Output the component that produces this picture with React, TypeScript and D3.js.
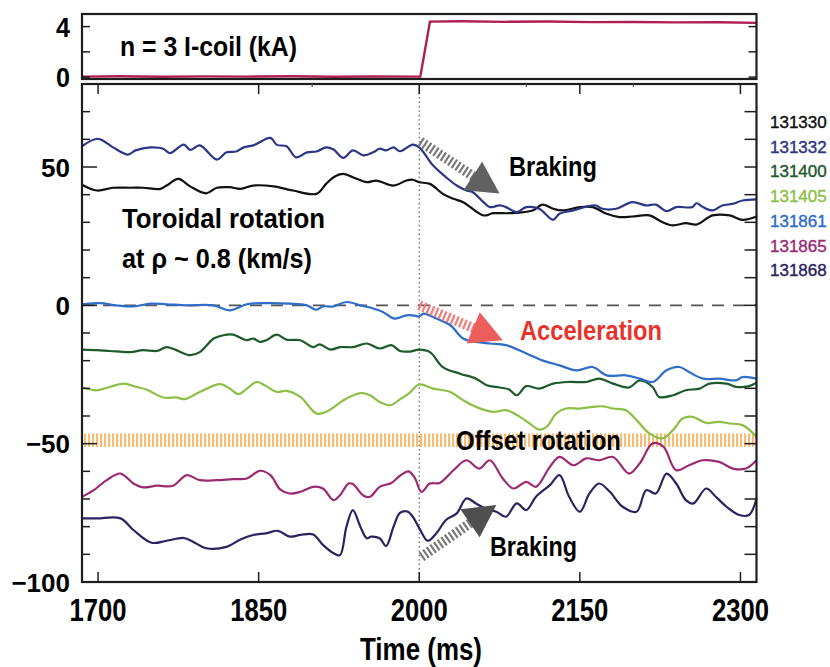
import * as d3 from "d3";

// I-coil current (kA) vs time (ms)
const coilTime = [1685, 1720, 1760, 1800, 1840, 1880, 1920, 1960, 2001, 2010, 2040, 2080, 2120, 2160, 2200, 2240, 2280, 2315];
const coilCurrent = [0.04, 0.07, 0.03, 0.06, 0.04, 0.07, 0.03, 0.05, 0.04, 4.4, 4.42, 4.38, 4.4, 4.36, 4.37, 4.34, 4.35, 4.3];

// toroidal rotation (km/s) per shot, [time ms, value]
const s131330: [number, number][] = [
  [1685, 43.6], [1699, 41.5], [1714, 42.5], [1730, 42.5], [1742, 42.5], [1758, 42.1], [1764, 43.3], [1775, 45.7],
  [1786, 43], [1801, 40.5], [1811, 42.5], [1823, 42.7], [1833, 42.1], [1845, 43.3], [1864, 43], [1882, 41.5],
  [1904, 40.3], [1913, 43.9], [1920, 46.3], [1929, 47.5], [1938, 46.3], [1951, 44.5], [1960, 45.1], [1976, 43.3],
  [1988, 45.1], [1994, 45.4], [2000, 44.5], [2010, 43.9], [2022, 40.3], [2032, 38.5], [2041, 37.3], [2060, 32.5],
  [2069, 33.3], [2084, 33.3], [2106, 34.3], [2115, 36.4], [2125, 34.9], [2134, 34.3], [2150, 35.5], [2162, 35.5],
  [2175, 33.1], [2187, 31.9], [2199, 32.1], [2215, 32.5], [2227, 30.1], [2237, 28.9], [2249, 29.7], [2259, 29.2],
  [2274, 32.5], [2290, 32.5], [2302, 30.9], [2315, 32.1],
];
const s131332: [number, number][] = [
  [1685, 57.5], [1700, 60.2], [1714, 57.1], [1728, 54.5], [1735, 56], [1749, 57.1], [1761, 56.6], [1767, 55],
  [1780, 58.1], [1786, 56.2], [1795, 57.8], [1811, 52.7], [1820, 55.3], [1829, 55.6], [1836, 57.1], [1845, 57.8],
  [1861, 60.5], [1867, 58], [1876, 57.5], [1885, 53.5], [1895, 55.3], [1904, 55.6], [1913, 57.1], [1920, 56.3],
  [1929, 53.3], [1938, 56], [1948, 54.2], [1957, 55.3], [1963, 56.6], [1969, 56], [1976, 57.1], [1982, 55.7],
  [1994, 58.1], [2000, 57.1], [2013, 50.5], [2025, 46.3], [2035, 43.3], [2044, 41.5], [2050, 40.9], [2060, 37.3],
  [2066, 35.5], [2075, 36.1], [2081, 35.5], [2091, 33.7], [2100, 35.5], [2112, 34.9], [2125, 30.9], [2131, 33.1],
  [2144, 34.3], [2156, 35.7], [2165, 36.1], [2171, 34.9], [2184, 34.9], [2199, 37.3], [2212, 36.1], [2221, 36.4],
  [2231, 34], [2240, 35.5], [2255, 35.5], [2259, 36.9], [2265, 35.5], [2274, 34.3], [2283, 36.1], [2293, 36.7],
  [2302, 37.9], [2315, 38.3],
];
const s131400: [number, number][] = [
  [1685, -16], [1699, -16.2], [1711, -16.5], [1730, -16.9], [1742, -16.2], [1755, -16.5], [1764, -15.1], [1773, -16.2],
  [1786, -18], [1795, -16.9], [1808, -12], [1817, -10.8], [1826, -10.6], [1839, -12.6], [1845, -12], [1851, -13.2],
  [1857, -12.6], [1867, -10.6], [1876, -12.4], [1889, -12.6], [1901, -15.1], [1907, -14.1], [1917, -16], [1926, -15.1],
  [1938, -15.1], [1951, -13.8], [1963, -15.6], [1974, -14.4], [1982, -16.5], [1991, -16.7], [2000, -16], [2010, -16.9],
  [2022, -22.3], [2038, -24.7], [2053, -26.5], [2063, -28.9], [2075, -29.7], [2084, -30.4], [2091, -32.5], [2100, -29.2],
  [2112, -30.1], [2125, -28.3], [2140, -27.7], [2156, -27.7], [2168, -26.5], [2181, -28.3], [2196, -29.7], [2206, -27.1],
  [2218, -29.5], [2224, -33.1], [2237, -32.5], [2249, -30.7], [2262, -30.1], [2271, -28.3], [2287, -28.3], [2296, -29.5],
  [2308, -29.2], [2315, -28],
];
const s131405: [number, number][] = [
  [1685, -29.7], [1699, -30.7], [1711, -29.5], [1724, -28.3], [1736, -29.5], [1745, -30.4], [1761, -33.3], [1773, -33.3],
  [1781, -33.9], [1795, -31.3], [1814, -28.5], [1823, -30.1], [1831, -32.1], [1839, -30.1], [1848, -27.7], [1857, -29.2],
  [1867, -31.3], [1876, -30.9], [1889, -33.1], [1904, -39.1], [1913, -38.5], [1932, -33.7], [1945, -31.7], [1954, -32.5],
  [1963, -34.9], [1973, -36.1], [1982, -34], [1991, -31.6], [2000, -28.6], [2013, -30.1], [2029, -31.3], [2041, -34.3],
  [2053, -36.7], [2069, -38.5], [2081, -37.9], [2094, -40.3], [2103, -42.7], [2112, -44.9], [2119, -43.9], [2128, -39.1],
  [2137, -37.3], [2150, -37.3], [2162, -36.7], [2172, -36.5], [2181, -37.3], [2193, -37.9], [2203, -41.5], [2215, -46.3],
  [2227, -48.1], [2237, -45.1], [2246, -40.9], [2255, -40.3], [2268, -42.5], [2280, -42.1], [2290, -42.7], [2302, -43.3],
  [2315, -47.5],
];
const s131861: [number, number][] = [
  [1685, 0.4], [1702, 0.8], [1717, 0], [1733, -0.4], [1749, 0.6], [1764, 0.4], [1783, 0], [1808, 0], [1823, -1.8],
  [1839, 0.4], [1857, 0.8], [1879, 0.6], [1895, 0], [1904, -1.6], [1910, -0.4], [1920, -0.4], [1932, 1.2], [1945, 0],
  [1954, -0.8], [1966, -2.4], [1977, -4.8], [1988, -3.6], [1994, -3.6], [2000, -4], [2004, -3], [2016, -4.8],
  [2029, -7.2], [2041, -12], [2053, -13.2], [2066, -13.8], [2081, -14.4], [2100, -17.4], [2115, -19.9], [2131, -21.7],
  [2147, -23.5], [2162, -22.3], [2175, -25.3], [2193, -25.3], [2206, -26.5], [2218, -27.7], [2231, -23.5], [2243, -22.3],
  [2252, -24.1], [2265, -26.5], [2280, -26.5], [2296, -27.1], [2302, -25.9], [2315, -26.5],
];
const s131865: [number, number][] = [
  [1685, -69.2], [1696, -66.8], [1708, -63.2], [1721, -60.8], [1733, -64.4], [1742, -65.8], [1755, -65.2], [1770, -65.2],
  [1783, -61.4], [1795, -63.2], [1811, -63.2], [1826, -62.8], [1839, -62.6], [1851, -59.8], [1861, -61.4], [1870, -66.5],
  [1879, -68], [1889, -67.4], [1901, -65.6], [1910, -66.2], [1920, -70.4], [1926, -68.6], [1934, -64.4], [1938, -64.6],
  [1948, -68.8], [1954, -69.2], [1963, -65.6], [1974, -64.2], [1982, -61.6], [1990, -60], [1996, -62.5], [2002, -67.4],
  [2010, -64.4], [2019, -64.2], [2032, -59.6], [2044, -56], [2056, -59], [2066, -56], [2078, -62.6], [2088, -66.2],
  [2100, -63.8], [2109, -65.6], [2122, -58.4], [2131, -54.8], [2144, -57.8], [2156, -55.3], [2168, -56], [2181, -54.8],
  [2196, -60.8], [2206, -57.1], [2218, -49.9], [2228, -51.1], [2240, -59.6], [2252, -57.8], [2265, -56], [2280, -56.6],
  [2293, -59], [2305, -59], [2315, -56],
];
const s131868: [number, number][] = [
  [1685, -77], [1699, -77], [1721, -77], [1733, -81.2], [1750, -85.8], [1764, -85.1], [1780, -84.1], [1789, -85.5],
  [1801, -87.8], [1820, -87.3], [1833, -84.6], [1845, -83], [1857, -82.4], [1868, -81.5], [1879, -83.6], [1889, -83],
  [1901, -82.8], [1910, -86.6], [1920, -89.6], [1926, -90.3], [1932, -80], [1938, -74], [1945, -80], [1951, -84.2],
  [1955, -83.6], [1963, -84.2], [1969, -87], [1976, -80], [1982, -75], [1989, -74.5], [1994, -76.4], [2000, -80.5],
  [2008, -85.1], [2016, -82.4], [2025, -77.6], [2035, -75.2], [2044, -69.8], [2053, -71.6], [2063, -73.8], [2072, -74.6],
  [2081, -76.4], [2091, -71.6], [2100, -74], [2109, -69.2], [2122, -65], [2131, -61.4], [2140, -69.2], [2150, -74.6],
  [2159, -68], [2168, -64.4], [2178, -67.4], [2190, -72.8], [2203, -74.6], [2212, -66.8], [2221, -68], [2231, -60.8],
  [2240, -64.4], [2249, -70.4], [2256, -71.6], [2268, -66.2], [2277, -69.2], [2287, -72.8], [2299, -75.8], [2308, -75.8],
  [2315, -69.8],
];

const shotIds = ["131330", "131332", "131400", "131405", "131861", "131865", "131868"];
const shotColors = ["#111111", "#2d3585", "#1d5a2c", "#8cbf46", "#2f6dc8", "#9c2a72", "#2c2260"];
const shotData = [s131330, s131332, s131400, s131405, s131861, s131865, s131868];

const xMajor = [1700, 1850, 2000, 2150, 2300];
const xMinor = [1900, 2100, 2200];
const yLabels = [50, 0, -50, -100];
const yTicks = d3.range(-90, 80, 10);
const coilTicks = [0, 2, 4];
const coilLabels = [0, 4];

const offsetBand = [-46.3, -51.2];

const NARROW = "'Liberation Sans Narrow', 'Arial Narrow', 'Liberation Sans', sans-serif";
const SANS = "'Liberation Sans', Arial, sans-serif";

export default function App() {
  const x = d3.scaleLinear().domain([1685, 2315]).range([82, 756.5]);
  const y = d3.scaleLinear().domain([-100, 80]).range([582, 84]);
  const yTop = d3.scaleLinear().domain([-0.15, 5]).range([79, 14]);

  const line = d3
    .line<[number, number]>()
    .x((d) => x(d[0]))
    .y((d) => y(d[1]))
    .curve(d3.curveCatmullRom.alpha(0.5));
  const coilLine = d3
    .line<number>()
    .x((d, i) => x(coilTime[i]))
    .y((d) => yTop(d));

  // hatched arrow: dashed fat shaft plus solid head
  const arrow = (t0: number, v0: number, t1: number, v1: number, shaft: string, head: string, key: string) => {
    const x0 = x(t0), y0 = y(v0), x1 = x(t1), y1 = y(v1);
    const len = Math.hypot(x1 - x0, y1 - y0);
    const ux = (x1 - x0) / len, uy = (y1 - y0) / len;
    const hl = 32, hw = 17;
    const bx = x1 - ux * hl, by = y1 - uy * hl;
    const pts = [
      [x1, y1],
      [bx - uy * hw, by + ux * hw],
      [bx + uy * hw, by - ux * hw],
    ];
    return (
      <g key={key}>
        <line x1={x0} y1={y0} x2={bx + ux * 2} y2={by + uy * 2} stroke={shaft} strokeWidth={10} strokeDasharray="2.2,2.2" />
        <polygon points={pts.map((p) => p.join(",")).join(" ")} fill={head} />
      </g>
    );
  };

  const frame = "#1e1e1e";

  return (
    <svg width={830} height={667} style={{ position: "absolute", left: 0, top: 0, background: "#fff" }}>
      <defs>
        <pattern id="stripes" width={4} height={20} patternUnits="userSpaceOnUse">
          <rect x={0} y={0} width={2.2} height={20} fill="#f0ad55" opacity={0.8} />
        </pattern>
      </defs>

      {/* top panel: I-coil */}
      <path d={coilLine(coilCurrent) || ""} fill="none" stroke="#b01d52" strokeWidth={2.4} />
      <rect x={82} y={14} width={674.5} height={65} fill="none" stroke={frame} strokeWidth={2.2} />
      {coilTicks.map((v) => (
        <g key={"ct" + v}>
          <line x1={82} x2={90} y1={yTop(v)} y2={yTop(v)} stroke={frame} strokeWidth={1.5} />
          <line x1={748.5} x2={756.5} y1={yTop(v)} y2={yTop(v)} stroke={frame} strokeWidth={1.5} />
        </g>
      ))}
      {coilLabels.map((v) => (
        <text key={"cl" + v} x={70} y={yTop(v) + 10} textAnchor="end" fontFamily={SANS} fontWeight="bold" fontSize={27} textLength={14} lengthAdjust="spacingAndGlyphs">
          {v}
        </text>
      ))}
      <text x={120} y={56} fontFamily={NARROW} fontWeight="bold" fontSize={28} textLength={177} lengthAdjust="spacingAndGlyphs">
        n = 3 I-coil (kA)
      </text>

      {/* main panel */}
      <rect x={82} y={y(offsetBand[0])} width={674.5} height={y(offsetBand[1]) - y(offsetBand[0])} fill="url(#stripes)" />
      <line x1={82} x2={756.5} y1={y(0)} y2={y(0)} stroke="#555" strokeWidth={1.6} strokeDasharray="12,9" />
      <line x1={x(2000)} x2={x(2000)} y1={84} y2={582} stroke="#666" strokeWidth={1.3} strokeDasharray="1.4,3" />

      {shotData.map((d, i) => (
        <path key={shotIds[i]} d={line(d) || ""} fill="none" stroke={shotColors[i]} strokeWidth={2.2} strokeLinejoin="round" />
      ))}

      {arrow(2001, 59.2, 2075, 40.4, "#7a7a7a", "#616161", "a1")}
      {arrow(2000, 0, 2078, -12.6, "#f07c7c", "#ec5e5e", "a2")}
      {arrow(2002, -90.9, 2072, -72.2, "#7a7a7a", "#4f4f4f", "a3")}

      <rect x={82} y={84} width={674.5} height={498} fill="none" stroke={frame} strokeWidth={2.2} />
      {yTicks.map((v) => (
        <g key={"yt" + v}>
          <line x1={82} x2={v % 50 === 0 ? 97 : 90} y1={y(v)} y2={y(v)} stroke={frame} strokeWidth={1.5} />
          <line x1={744.5} x2={756.5} y1={y(v)} y2={y(v)} stroke={frame} strokeWidth={1.5} />
        </g>
      ))}
      {xMajor.map((t) => (
        <g key={"xt" + t}>
          <line x1={x(t)} x2={x(t)} y1={84} y2={94} stroke={frame} strokeWidth={1.5} />
          <line x1={x(t)} x2={x(t)} y1={572} y2={582} stroke={frame} strokeWidth={1.5} />
          <text x={x(t)} y={621} textAnchor="middle" fontFamily={NARROW} fontWeight="bold" fontSize={31} textLength={57} lengthAdjust="spacingAndGlyphs">
            {t}
          </text>
        </g>
      ))}
      {xMinor.map((t) => (
        <line key={"xm" + t} x1={x(t)} x2={x(t)} y1={84} y2={87} stroke="#555" strokeWidth={1.2} />
      ))}
      {yLabels.map((v) => (
        <text key={"yl" + v} x={70} y={y(v) + 9.5} textAnchor="end" fontFamily={SANS} fontWeight="bold" fontSize={26}>
          {v < 0 ? "\u2212" + Math.abs(v) : v}
        </text>
      ))}
      <text x={360} y={660} fontFamily={NARROW} fontWeight="bold" fontSize={31} textLength={122} lengthAdjust="spacingAndGlyphs">
        Time (ms)
      </text>

      {/* annotations */}
      <text x={122} y={228} fontFamily={NARROW} fontWeight="bold" fontSize={28} textLength={203} lengthAdjust="spacingAndGlyphs">
        Toroidal rotation
      </text>
      <text x={122} y={268} fontFamily={NARROW} fontWeight="bold" fontSize={28} textLength={190} lengthAdjust="spacingAndGlyphs">
        at ρ ~ 0.8 (km/s)
      </text>
      <text x={509} y={176} fontFamily={NARROW} fontWeight="bold" fontSize={28} textLength={88} lengthAdjust="spacingAndGlyphs">
        Braking
      </text>
      <text x={520} y={340} fontFamily={NARROW} fontWeight="bold" fontSize={27} textLength={142} lengthAdjust="spacingAndGlyphs" fill="#e8332b">
        Acceleration
      </text>
      <text x={456} y={450} fontFamily={NARROW} fontWeight="bold" fontSize={27} textLength={165} lengthAdjust="spacingAndGlyphs">
        Offset rotation
      </text>
      <text x={490} y={556} fontFamily={NARROW} fontWeight="bold" fontSize={28} textLength={87} lengthAdjust="spacingAndGlyphs">
        Braking
      </text>

      {/* legend */}
      {shotIds.map((id, i) => (
        <text key={"lg" + id} x={770} y={128 + i * 24.7} fontFamily={SANS} fontSize={17} fill={shotColors[i]} stroke={shotColors[i]} strokeWidth={0.4}>
          {id}
        </text>
      ))}
    </svg>
  );
}
